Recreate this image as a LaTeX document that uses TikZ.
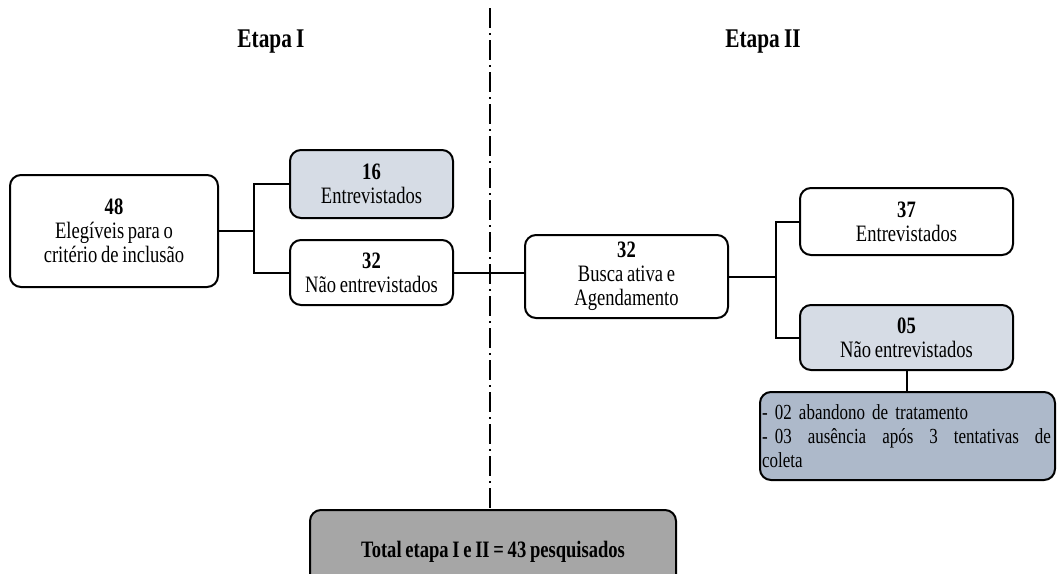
\documentclass[tikz,border=0pt]{standalone}
\usepackage{fontspec}
\setmainfont{Liberation Serif}[FakeStretch=0.79, WordSpace=0.8]
\usepackage{tikz}

\definecolor{boxlight}{HTML}{D6DCE5}
\definecolor{boxdark}{HTML}{ADB9CA}
\definecolor{boxgray}{HTML}{A6A6A6}

\tikzset{
  caixa/.style={draw, line width=2pt, rounded corners=11pt, align=center,
    inner sep=2pt, font=\fontsize{23.5}{24}\selectfont},
  liga/.style={line width=2pt},
}

\begin{document}
\begin{tikzpicture}[x=1pt, y=-1pt]
    \clip (0,0) rectangle (1059,573);
    \fill [white] (0,0) rectangle (1059,573);

    \node [font=\fontsize{27}{30}\selectfont\bfseries] (et1) at (271, 42) {Etapa I};
    \node [font=\fontsize{27}{30}\selectfont\bfseries] (et2) at (763, 42) {Etapa II};

    \node [caixa, minimum width=208pt, minimum height=112pt] (n48) at (114, 231)
      {\textbf{48}\\Elegíveis para o\\critério de inclusão};
    \node [caixa, fill=boxlight, minimum width=163pt, minimum height=68pt] (n16) at (371.5, 184)
      {\textbf{16}\\Entrevistados};
    \node [caixa, minimum width=163pt, minimum height=65pt] (n32a) at (371.5, 272.5)
      {\textbf{32}\\Não entrevistados};
    \node [caixa, minimum width=203pt, minimum height=83pt] (n32b) at (626.5, 276.5)
      {\textbf{32}\\Busca ativa e\\Agendamento};
    \node [caixa, fill=boxlight, minimum width=213pt, minimum height=65pt] (n05) at (906.5, 337.5)
      {\textbf{05}\\Não entrevistados};
    \node [caixa, minimum width=213pt, minimum height=67pt] (n37) at (906.5, 221.5)
      {\textbf{37}\\Entrevistados};
    \node [caixa, fill=boxdark, align=left, text width=291pt, minimum height=88pt,
      font=\fontsize{21.5}{24}\selectfont] (nmot) at (907.5, 436)
      {- 02 abandono de tratamento\\
       \leavevmode\hbox to 289pt{- 03\hfill ausência\hfill após\hfill 3\hfill tentativas\hfill de}\\
       coleta};
    \node [caixa, fill=boxgray, minimum width=366pt, minimum height=84pt,
      font=\fontsize{23.5}{24}\selectfont\bfseries] (ntot) at (493, 552)
      {Total etapa I e II = 43 pesquisados};

    % ligacoes etapa I
    \draw [liga] (n48.east) -- ++(35, 0) coordinate (j1);
    \draw [liga] (n16.west) -| (j1) |- (n32a.west);
    \draw [liga] (n32a.east) -- (n32a.east -| n32b.west);

    % ligacoes etapa II
    \draw [liga] (n32b.east) -- ++(47, 0) coordinate (j2);
    \draw [liga] (n37.west) -| (j2) |- (n05.west);
    \draw [liga] (n05.south) -- (n05.south |- nmot.north);

    % divisao
    \coordinate (topo) at (490, 8);
    \draw [line width=1.6pt, dash pattern=on 20pt off 5pt on 2pt off 5pt] (topo) -- (topo |- ntot.north);
\end{tikzpicture}
\end{document}
